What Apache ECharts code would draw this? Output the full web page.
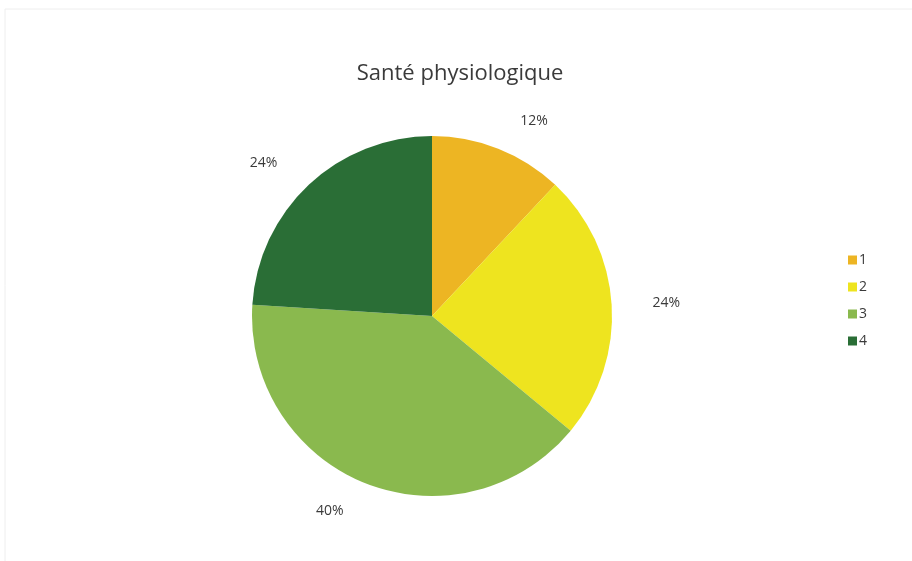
<!DOCTYPE html>
<html>
<head>
<meta charset="utf-8">
<script src="https://cdn.jsdelivr.net/npm/echarts@6/dist/echarts.min.js"></script>
<style>
  html, body { margin: 0; padding: 0; background: #fff; }
  #main { width: 912px; height: 561px; }
</style>
</head>
<body>
<div id="main"></div>
<script>
const categories = ['1', '2', '3', '4'];
const values = [12, 24, 40, 24];
const colors = ['#EDB523', '#EEE41F', '#8AB94E', '#2A6E36'];

const chart = echarts.init(document.getElementById('main'));
const option = {
  backgroundColor: '#fff',
  title: {
    text: 'Santé physiologique',
    left: 455,
    top: 58,
    textAlign: 'center',
    textStyle: { fontFamily: 'Open Sans', fontSize: 22, fontWeight: 'normal', color: '#3a3a3a' }
  },
  legend: {
    orient: 'vertical',
    left: 843,
    top: 248,
    itemWidth: 9,
    itemHeight: 9,
    itemGap: 13,
    icon: 'rect',
    data: categories,
    textStyle: { fontFamily: 'Open Sans', fontSize: 14, color: '#3a3a3a', padding: [0, 0, 0, -3] }
  },
  graphic: [{
    type: 'rect',
    shape: { x: 5, y: 9, width: 920, height: 560 },
    style: { fill: 'none', stroke: '#eeeeee', lineWidth: 1 },
    silent: true
  }],
  series: [{
    type: 'pie',
    center: [432, 316],
    radius: 180,
    startAngle: 90,
    clockwise: true,
    animation: false,
    data: categories.map((c, i) => ({ name: c, value: values[i], itemStyle: { color: colors[i] } })),
    label: {
      show: true,
      position: 'outside',
      formatter: '{c}%',
      fontFamily: 'Open Sans',
      fontSize: 14,
      color: '#3a3a3a'
    },
    labelLine: { show: false, length: 30, length2: 6 },
    emphasis: { disabled: true }
  }]
};
chart.setOption(option);
</script>
</body>
</html>
